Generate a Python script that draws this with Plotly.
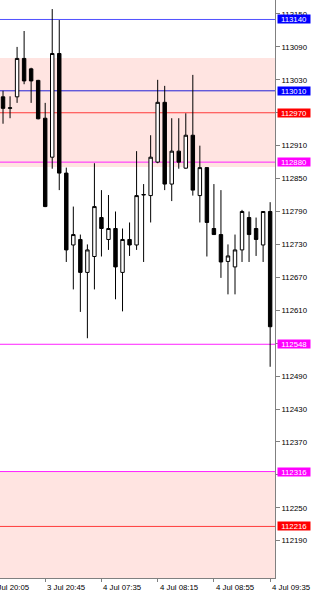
import plotly.graph_objects as go

# ---- data ----
opens  = [112999,112978,112999,113069,113050,113029,112960,112889,113078,112860,
          112729,112739,112679,112708,112779,112739,112759,112679,112739,112729,
          112820,112819,112880,112989,112840,112900,112869,112929,112819,112870,
          112759,112748,112699,112689,112720,112779,112759,112729,112790]
highs  = [113010,113000,113090,113119,113052,113030,112988,113159,113139,112870,
          112799,112748,112730,112878,112829,112820,112790,112759,112770,112900,
          112840,112929,113030,113019,112960,112960,112969,113039,112910,112870,
          112840,112829,112730,112748,112793,112790,112779,112790,112807]
lows   = [112950,112960,112988,113022,112988,112958,112798,112868,112829,112698,
          112648,112607,112559,112648,112708,112720,112630,112608,112709,112720,
          112698,112770,112878,112829,112809,112868,112868,112819,112770,112708,
          112748,112669,112639,112639,112698,112698,112709,112698,112507]
closes = [112978,112979,113069,113028,113028,112959,112799,113078,112860,112720,
          112748,112679,112720,112799,112759,112759,112689,112739,112729,112819,
          112821,112889,112989,112840,112900,112880,112929,112829,112870,112770,
          112748,112698,112709,112720,112790,112748,112739,112790,112580]

tick_pos    = [-2, 6, 14, 22, 30, 38]
tick_labels = ["3 Jul 20:05", "3 Jul 20:45", "4 Jul 07:35", "4 Jul 08:15", "4 Jul 08:55", "4 Jul 09:35"]

y_ticks = list(range(112190, 113151, 60))
hidden_y_labels = [112970, 112550, 112310]   # covered by price boxes

zones = [(112871, 113070), (112000, 112316)]
levels = [113140, 113010, 112970, 112880, 112548, 112316, 112216]
level_line_colors = ["#5050ff", "#2020d8", "#ff3a3a", "#ff22ff", "#ff22ff", "#ff22ff", "#ff3a3a"]
level_box_colors  = ["#0000ff", "#0000ff", "#ff0000", "#ff00ff", "#ff00ff", "#ff00ff", "#ff0000"]

FONT = "Liberation Sans"
FS = 7.8
x = list(range(len(opens)))
x_range = [-0.43, 38.69]

fig = go.Figure()
fig.add_trace(go.Candlestick(
    x=x, open=opens, high=highs, low=lows, close=closes,
    increasing=dict(line=dict(color="#000000", width=1), fillcolor="#ffffff"),
    decreasing=dict(line=dict(color="#000000", width=1), fillcolor="#000000"),
    whiskerwidth=0, showlegend=False, hoverinfo="skip",
))

shapes = []
for y0, y1 in zones:
    shapes.append(dict(type="rect", xref="paper", yref="y", x0=0, x1=1, y0=y0, y1=y1,
                       fillcolor="#ffe4e1", line=dict(width=0), layer="below"))
for v, c in zip(levels, level_line_colors):
    shapes.append(dict(type="line", xref="x domain", yref="y", x0=0, x1=1, y0=v, y1=v,
                       line=dict(color=c, width=1), layer="below"))

annotations = []
for v, c in zip(levels, level_box_colors):
    annotations.append(dict(xref="paper", yref="y", x=1, y=v, xanchor="left", yanchor="middle",
                            xshift=2, width=32, height=8, align="center",
                            text=str(v), showarrow=False, bgcolor=c,
                            font=dict(family=FONT, size=FS, color="#ffffff"), borderpad=0))
span = x_range[1] - x_range[0]
for p, t in zip(tick_pos, tick_labels):
    annotations.append(dict(xref="paper", yref="paper", x=(p - x_range[0]) / span, y=0,
                            xanchor="left", yanchor="top",
                            yshift=-3, text=t, showarrow=False,
                            font=dict(family=FONT, size=FS, color="#000000")))

fig.update_layout(
    width=322, height=600,
    margin=dict(l=0, r=47, t=0, b=22),
    paper_bgcolor="#ffffff", plot_bgcolor="#ffffff",
    shapes=shapes, annotations=annotations,
    xaxis=dict(range=x_range, rangeslider=dict(visible=False),
               tickvals=tick_pos, ticktext=[""] * len(tick_pos),
               ticks="outside", ticklen=3, tickcolor="#808080",
               showgrid=False, zeroline=False,
               showline=True, linecolor="#808080", linewidth=1),
    yaxis=dict(range=[112122, 113175.5], side="right",
               tickvals=y_ticks,
               ticktext=["" if v in hidden_y_labels else str(v) for v in y_ticks],
               ticks="outside", ticklen=4, tickcolor="#808080",
               tickfont=dict(family=FONT, size=FS, color="#000000"),
               showgrid=False, zeroline=False,
               showline=True, linecolor="#808080", linewidth=1),
    showlegend=False,
)

fig.write_html("out.html")
